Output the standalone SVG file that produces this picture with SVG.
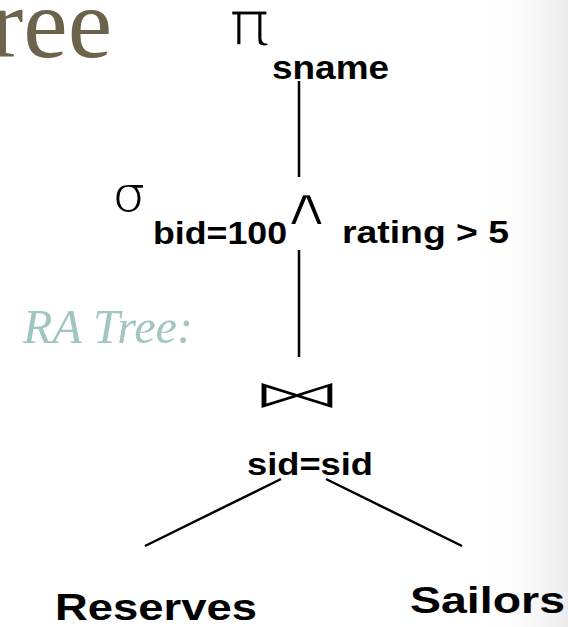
<svg xmlns="http://www.w3.org/2000/svg" width="568" height="627" viewBox="0 0 568 627">
  <defs>
    <linearGradient id="edge" x1="0" y1="0" x2="1" y2="0">
      <stop offset="0" stop-color="#ffffff" stop-opacity="0"/>
      <stop offset="1" stop-color="#ebebeb" stop-opacity="1"/>
    </linearGradient>
    <style>
      .lbl { font-family: "Liberation Sans", Arial, sans-serif; font-weight: bold; fill: #000; }
      .sym { font-family: "DejaVu Sans", sans-serif; fill: #000; stroke: #ffffff; paint-order: fill; }
      .edge { stroke: #000; stroke-width: 2.5; fill: none; stroke-linecap: butt; }
    </style>
  </defs>
  <rect x="0" y="0" width="568" height="627" fill="#ffffff"/>
  <rect x="478" y="0" width="90" height="627" fill="url(#edge)"/>

  <g id="title">
    <text x="-10" y="57" font-family="'Liberation Serif', 'Times New Roman', serif" font-size="100" fill="#6b634b">ree</text>
  </g>
  <g id="ra-tree-label">
    <text x="23" y="343" font-family="'Liberation Serif', 'Times New Roman', serif" font-style="italic" font-size="48" fill="#a0c5c2" textLength="170" lengthAdjust="spacingAndGlyphs">RA Tree:</text>
  </g>

  <g id="connectors">
    <line class="edge" x1="299" y1="81" x2="299" y2="177"/>
    <line class="edge" x1="299" y1="250" x2="299" y2="357"/>
    <line class="edge" x1="281" y1="479" x2="145" y2="546"/>
    <line class="edge" x1="326" y1="479" x2="462" y2="546"/>
  </g>

  <g id="node-project">
    <text class="sym" transform="translate(249.5,46) scale(1.1,1)" x="0" y="0" font-size="65" stroke-width="3" text-anchor="middle">π</text>
    <text class="lbl" x="272" y="79" font-size="34" textLength="117" lengthAdjust="spacingAndGlyphs">sname</text>
  </g>
  <g id="node-select">
    <text class="sym" x="129" y="212" font-size="52" stroke-width="2" text-anchor="middle">σ</text>
    <text class="lbl" x="153" y="244" font-size="32" textLength="134" lengthAdjust="spacingAndGlyphs">bid=100</text>
    <text class="sym" transform="translate(306.5,225) scale(1.35,1)" x="0" y="0" font-size="53" stroke-width="2" text-anchor="middle">∧</text>
    <text class="lbl" x="342" y="243" font-size="32" textLength="167" lengthAdjust="spacingAndGlyphs">rating &gt; 5</text>
  </g>
  <g id="node-join">
    <text class="sym" transform="translate(297.5,408) scale(2.35,1)" x="0" y="0" font-size="40" stroke-width="1.2" text-anchor="middle">⋈</text>
    <text class="lbl" x="247" y="475" font-size="32" textLength="126" lengthAdjust="spacingAndGlyphs">sid=sid</text>
  </g>
  <g id="node-reserves">
    <text class="lbl" x="55" y="620" font-size="37" textLength="202" lengthAdjust="spacingAndGlyphs">Reserves</text>
  </g>
  <g id="node-sailors">
    <text class="lbl" x="410" y="613" font-size="37" textLength="155" lengthAdjust="spacingAndGlyphs">Sailors</text>
  </g>
</svg>
